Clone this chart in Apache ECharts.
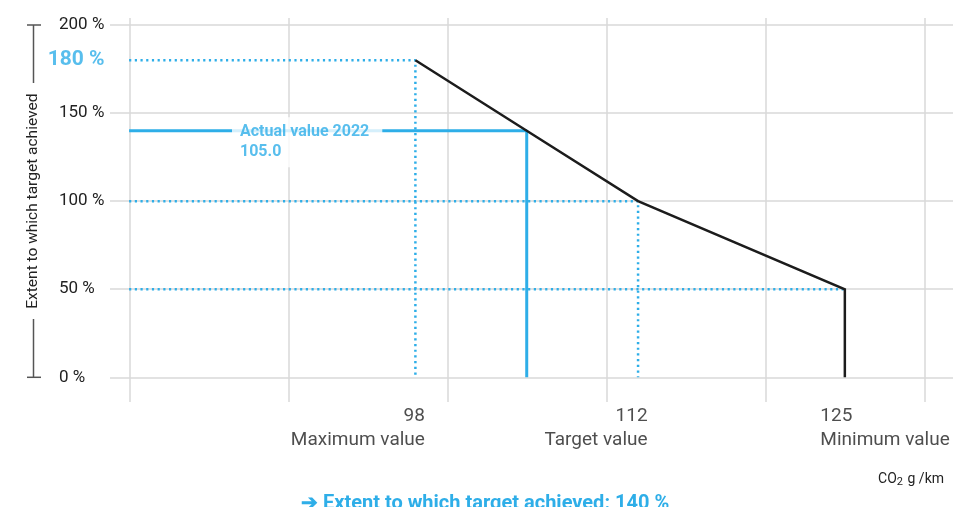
<!DOCTYPE html>
<html>
<head>
<meta charset="utf-8">
<script src="https://cdn.jsdelivr.net/npm/echarts@6/dist/echarts.min.js"></script>
<style>
  html, body { margin: 0; padding: 0; background: #fff; }
  #chart { width: 955px; height: 507px; }
</style>
</head>
<body>
<div id="chart"></div>
<script>
// CO2 g/km at the break points of the curve
const co2Values = [98, 105, 112, 125];
// extent to which target achieved (%) at those points
const achievedValues = [180, 140, 100, 50];
// points named under the x axis
const markedCo2 = [98, 112, 125];
const markedNames = ['Maximum value', 'Target value', 'Minimum value'];
// y axis
const yTicks = [0, 50, 100, 150, 200];
// vertical grid lines run from 80 to 130 in steps of 10
const xGridStart = 80;
const xGridEnd = 130;
// actual value 2022
const actualCo2 = 105;
const actualAchieved = 140;
const actualTitle = 'Actual value 2022';
const actualText = '105.0';
const resultText = '➔ Extent to which target achieved: 140 %';

const BLUE = '#2eaee8';
const INK = '#1c1c1c';
const TEXT = '#222';
const GRID = '#d8d8d8';
const FONT = 'Roboto, "Noto Sans", sans-serif';

const chart = echarts.init(document.getElementById('chart'));

const yMin = yTicks[0];
const yMax = yTicks[yTicks.length - 1];

// black curve, dropping to 0 at the minimum value
const curve = co2Values.map((x, i) => [x, achievedValues[i]]);
curve.push([co2Values[co2Values.length - 1], yMin]);

// dotted guides for the three named points
const guideSeries = markedCo2.map((x, i) => {
    const y = achievedValues[co2Values.indexOf(x)];
    const data = [[xGridStart, y], [x, y]];
    if (i < markedCo2.length - 1) data.push([x, yMin]);
    return {
        type: 'line',
        xAxisIndex: 0,
        yAxisIndex: 0,
        data: data,
        symbol: 'none',
        silent: true,
        z: 2,
        lineStyle: { color: BLUE, width: 2.5, type: [2.2, 3.5] }
    };
});

const bottomLabels = markedCo2.map((x, i) => ({
    value: [x, yMin],
    label: {
        show: true,
        formatter: '{v|' + x + '}\n{n|' + markedNames[i] + '}',
        position: i < markedCo2.length - 1 ? [10, 27] : [-24, 27],
        align: i < markedCo2.length - 1 ? 'right' : 'left',
        verticalAlign: 'top',
        rich: {
            v: { fontSize: 19, lineHeight: 24, color: TEXT, fontFamily: FONT },
            n: { fontSize: 19, lineHeight: 24, color: TEXT, fontFamily: FONT }
        }
    }
}));

const option = {
    animation: false,
    textStyle: { fontFamily: FONT },
    title: [
        {
            text: resultText,
            left: 296,
            top: 489,
            textStyle: { color: BLUE, fontSize: 20, fontWeight: 'bold', fontFamily: FONT }
        },
        {
            text: '{a|CO}{s|2}{a| g /km}',
            right: 6,
            top: 465,
            textStyle: {
                fontWeight: 'normal',
                rich: {
                    a: { fontSize: 14, fontWeight: 'normal', color: TEXT, fontFamily: FONT, lineHeight: 18 },
                    s: { fontSize: 11, fontWeight: 'normal', color: TEXT, fontFamily: FONT, lineHeight: 12, padding: [6, 1, 0, 0] }
                }
            }
        }
    ],
    grid: [
        { left: 110, right: 2, top: 25, bottom: 129.7 },
        { left: 129.3, right: 30.7, top: 18, bottom: 105 }
    ],
    xAxis: [
        {
            gridIndex: 0,
            type: 'value',
            min: 78.8,
            max: 131.8,
            axisLine: { show: false },
            axisTick: { show: false },
            axisLabel: { show: false },
            splitLine: { show: false }
        },
        {
            gridIndex: 1,
            type: 'value',
            min: xGridStart,
            max: xGridEnd,
            interval: 10,
            axisLine: { show: false },
            axisTick: { show: false },
            axisLabel: { show: false },
            splitLine: { show: true, lineStyle: { color: GRID, width: 1.5 } }
        }
    ],
    yAxis: [
        {
            gridIndex: 0,
            type: 'value',
            min: yMin,
            max: yMax,
            interval: 50,
            name: 'Extent to which target achieved',
            nameLocation: 'middle',
            nameGap: 69,
            nameTextStyle: { fontSize: 15.5, color: TEXT, fontFamily: FONT },
            axisLine: { show: false },
            axisTick: { show: false },
            axisLabel: {
                formatter: '{value} %',
                align: 'left',
                margin: 51,
                fontSize: 17,
                color: TEXT,
                fontFamily: FONT
            },
            splitLine: { show: true, lineStyle: { color: GRID, width: 1.5 } }
        },
        {
            gridIndex: 1,
            type: 'value',
            show: false,
            splitLine: { show: false }
        }
    ],
    series: [
        ...guideSeries,
        {
            type: 'line',
            xAxisIndex: 0,
            yAxisIndex: 0,
            data: [[xGridStart, actualAchieved], [actualCo2, actualAchieved], [actualCo2, yMin]],
            symbol: 'none',
            silent: true,
            z: 3,
            lineStyle: { color: BLUE, width: 3 }
        },
        {
            type: 'line',
            xAxisIndex: 0,
            yAxisIndex: 0,
            data: curve,
            symbol: 'none',
            silent: true,
            z: 4,
            lineStyle: { color: INK, width: 2.5, join: 'miter' }
        },
        {
            type: 'scatter',
            xAxisIndex: 0,
            yAxisIndex: 0,
            symbolSize: 1,
            itemStyle: { color: 'rgba(0,0,0,0)' },
            silent: true,
            z: 6,
            data: [
                {
                    value: [xGridStart, achievedValues[0]],
                    label: {
                        show: true,
                        formatter: achievedValues[0] + ' %',
                        position: 'left',
                        distance: 24,
                        color: BLUE,
                        fontSize: 21,
                        fontWeight: 'bold',
                        fontFamily: FONT
                    }
                },
                {
                    value: [xGridStart, actualAchieved],
                    label: {
                        show: true,
                        formatter: actualTitle + '\n' + actualText,
                        position: [103.4, -13],
                        align: 'left',
                        verticalAlign: 'top',
                        color: BLUE,
                        fontSize: 16,
                        fontWeight: 'bold',
                        lineHeight: 20,
                        fontFamily: FONT,
                        backgroundColor: '#fff',
                        padding: [5, 13, 5, 8]
                    }
                },
                ...bottomLabels
            ]
        }
    ]
};

chart.setOption(option);

// bracket around the y axis name
const yTopPx = chart.convertToPixel({ gridIndex: 0 }, [xGridStart, yMax])[1];
const yBottomPx = chart.convertToPixel({ gridIndex: 0 }, [xGridStart, yMin])[1];
const bx = 33.5;
const bracketStyle = { stroke: '#555', lineWidth: 1.5 };
chart.setOption({
    graphic: [
        { type: 'line', shape: { x1: bx, y1: yTopPx, x2: bx, y2: 83 }, style: bracketStyle, silent: true },
        { type: 'line', shape: { x1: 27, y1: yTopPx, x2: 41, y2: yTopPx }, style: bracketStyle, silent: true },
        { type: 'line', shape: { x1: bx, y1: 319, x2: bx, y2: yBottomPx }, style: bracketStyle, silent: true },
        { type: 'line', shape: { x1: 27, y1: yBottomPx, x2: 41, y2: yBottomPx }, style: bracketStyle, silent: true }
    ]
});
</script>
</body>
</html>
